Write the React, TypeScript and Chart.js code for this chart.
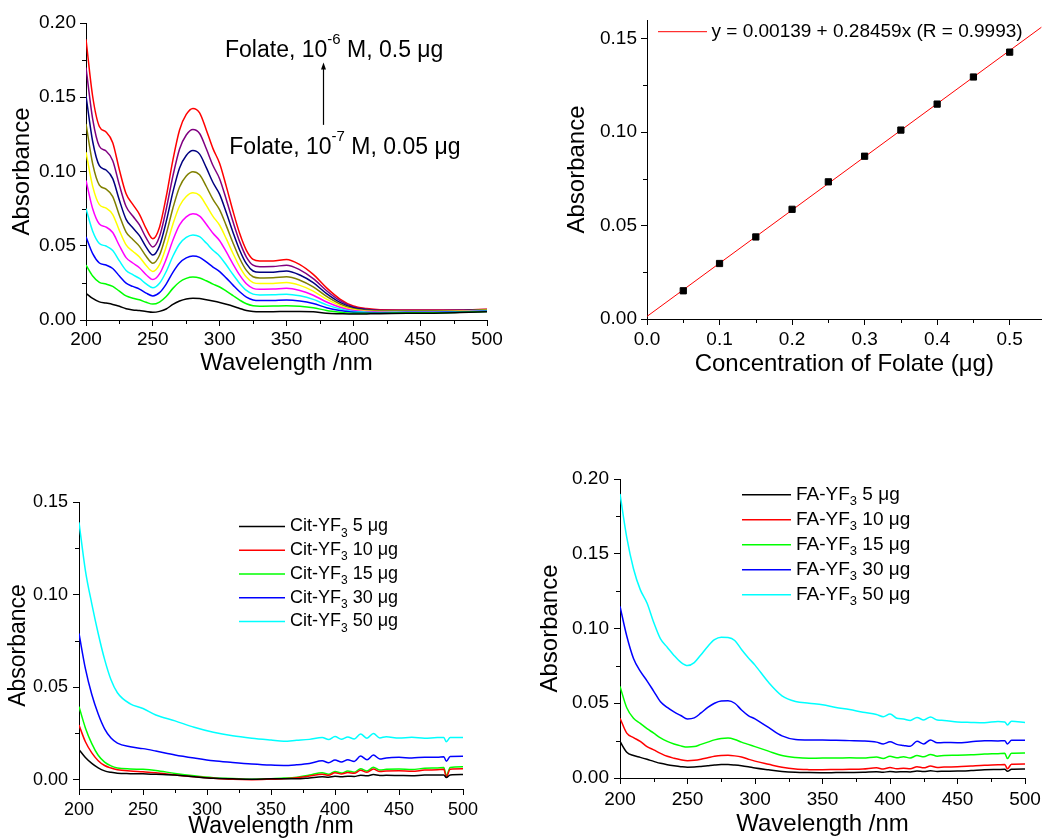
import React, { useEffect, useRef } from 'react';
import { Chart, registerables } from 'chart.js';

Chart.register(...registerables);

const FONT = '"Liberation Sans", Arial, Helvetica, sans-serif';
Chart.defaults.font.family = FONT;
Chart.defaults.color = '#000';

// ---------- Panel A: folate spectra ----------
const WL_A = [200, 205, 210, 215, 220, 225, 230, 235, 240, 245, 250, 255, 260, 265, 270, 275, 280, 285, 290, 295, 300, 305, 310, 315, 320, 325, 330, 340, 350, 360, 370, 380, 390, 400, 410, 420, 440, 460, 480, 500];
const FOL_005 = [0.018, 0.0145, 0.0122, 0.0114, 0.0105, 0.0092, 0.0076, 0.0068, 0.0064, 0.0057, 0.0052, 0.0058, 0.0074, 0.0105, 0.0128, 0.0142, 0.0147, 0.0144, 0.0137, 0.0128, 0.0118, 0.0106, 0.0093, 0.0078, 0.0064, 0.0057, 0.0055, 0.0056, 0.0057, 0.0058, 0.0055, 0.0045, 0.0042, 0.0040, 0.0041, 0.0042, 0.0045, 0.0046, 0.0050, 0.0055];
const FOL_010 = [0.037, 0.0296, 0.0253, 0.0242, 0.0226, 0.0194, 0.0162, 0.0147, 0.0136, 0.0119, 0.0107, 0.0121, 0.0158, 0.0213, 0.0256, 0.0280, 0.0289, 0.0283, 0.0264, 0.0242, 0.0222, 0.0194, 0.0164, 0.0134, 0.0109, 0.0096, 0.0093, 0.0094, 0.0096, 0.0093, 0.0083, 0.0064, 0.0053, 0.0046, 0.0045, 0.0045, 0.0048, 0.0048, 0.0052, 0.0057];
const FOL_015 = [0.056, 0.0447, 0.0384, 0.0370, 0.0347, 0.0296, 0.0248, 0.0226, 0.0208, 0.0181, 0.0162, 0.0184, 0.0242, 0.0321, 0.0384, 0.0418, 0.0431, 0.0422, 0.0391, 0.0356, 0.0326, 0.0282, 0.0235, 0.0190, 0.0154, 0.0135, 0.0131, 0.0132, 0.0135, 0.0128, 0.0111, 0.0083, 0.0064, 0.0052, 0.0049, 0.0048, 0.0050, 0.0051, 0.0054, 0.0059];
const FOL_020 = [0.075, 0.0598, 0.0515, 0.0498, 0.0468, 0.0398, 0.0334, 0.0305, 0.0280, 0.0243, 0.0217, 0.0247, 0.0326, 0.0429, 0.0512, 0.0556, 0.0573, 0.0561, 0.0518, 0.0470, 0.0430, 0.0370, 0.0306, 0.0246, 0.0199, 0.0174, 0.0169, 0.0170, 0.0174, 0.0163, 0.0139, 0.0102, 0.0075, 0.0058, 0.0053, 0.0051, 0.0053, 0.0053, 0.0056, 0.0061];
const FOL_025 = [0.094, 0.0749, 0.0646, 0.0626, 0.0589, 0.0500, 0.0420, 0.0384, 0.0352, 0.0305, 0.0272, 0.0310, 0.0410, 0.0537, 0.0640, 0.0694, 0.0715, 0.0700, 0.0645, 0.0584, 0.0534, 0.0458, 0.0377, 0.0302, 0.0244, 0.0213, 0.0207, 0.0208, 0.0213, 0.0198, 0.0167, 0.0121, 0.0086, 0.0064, 0.0057, 0.0054, 0.0055, 0.0056, 0.0058, 0.0063];
const FOL_030 = [0.113, 0.0900, 0.0777, 0.0754, 0.0710, 0.0602, 0.0506, 0.0463, 0.0424, 0.0367, 0.0327, 0.0373, 0.0494, 0.0645, 0.0768, 0.0832, 0.0857, 0.0839, 0.0772, 0.0698, 0.0638, 0.0546, 0.0448, 0.0358, 0.0289, 0.0252, 0.0245, 0.0246, 0.0252, 0.0233, 0.0195, 0.0140, 0.0097, 0.0070, 0.0061, 0.0057, 0.0058, 0.0058, 0.0060, 0.0065];
const FOL_035 = [0.132, 0.1051, 0.0908, 0.0882, 0.0831, 0.0704, 0.0592, 0.0542, 0.0496, 0.0429, 0.0382, 0.0436, 0.0578, 0.0753, 0.0896, 0.0970, 0.0999, 0.0978, 0.0899, 0.0812, 0.0742, 0.0634, 0.0519, 0.0414, 0.0334, 0.0291, 0.0283, 0.0284, 0.0291, 0.0268, 0.0223, 0.0159, 0.0108, 0.0076, 0.0065, 0.0060, 0.0060, 0.0061, 0.0062, 0.0067];
const FOL_040 = [0.151, 0.1202, 0.1039, 0.1010, 0.0952, 0.0806, 0.0678, 0.0621, 0.0568, 0.0491, 0.0437, 0.0499, 0.0662, 0.0861, 0.1024, 0.1108, 0.1141, 0.1117, 0.1026, 0.0926, 0.0846, 0.0722, 0.0590, 0.0470, 0.0379, 0.0330, 0.0321, 0.0322, 0.0330, 0.0303, 0.0251, 0.0178, 0.0119, 0.0082, 0.0069, 0.0063, 0.0063, 0.0063, 0.0064, 0.0069];
const FOL_045 = [0.170, 0.1353, 0.1170, 0.1138, 0.1073, 0.0908, 0.0764, 0.0700, 0.0640, 0.0553, 0.0492, 0.0562, 0.0746, 0.0969, 0.1152, 0.1246, 0.1283, 0.1256, 0.1153, 0.1040, 0.0950, 0.0810, 0.0661, 0.0526, 0.0424, 0.0369, 0.0359, 0.0360, 0.0369, 0.0338, 0.0279, 0.0197, 0.0130, 0.0088, 0.0073, 0.0066, 0.0065, 0.0066, 0.0066, 0.0071];
const FOL_050 = [0.189, 0.1505, 0.1303, 0.1266, 0.1194, 0.1010, 0.0850, 0.0779, 0.0712, 0.0615, 0.0547, 0.0625, 0.0830, 0.1077, 0.1280, 0.1384, 0.1425, 0.1395, 0.1280, 0.1154, 0.1054, 0.0898, 0.0732, 0.0582, 0.0469, 0.0408, 0.0397, 0.0398, 0.0408, 0.0373, 0.0307, 0.0216, 0.0141, 0.0094, 0.0077, 0.0069, 0.0068, 0.0068, 0.0068, 0.0073];
const FOL_SERIES = [FOL_005, FOL_010, FOL_015, FOL_020, FOL_025, FOL_030, FOL_035, FOL_040, FOL_045, FOL_050];
const FOL_MASSES = ['0.05', '0.10', '0.15', '0.20', '0.25', '0.30', '0.35', '0.40', '0.45', '0.50'];
const FOL_COLORS = ['#000000', '#00ff00', '#0000ff', '#00ffff', '#ff00ff', '#ffff00', '#808000', '#000080', '#800080', '#ff0000'];

// ---------- Panel B: calibration ----------
const CONC = [0.05, 0.1, 0.15, 0.2, 0.25, 0.3, 0.35, 0.4, 0.45, 0.5];
const CAL_ABS = [0.0151, 0.0297, 0.0439, 0.0587, 0.0734, 0.0871, 0.1011, 0.1150, 0.1295, 0.1428];
const FIT_X = [0, 0.544];
const FIT_Y = [0.00139, 0.1562];
const FIT_LABEL = 'y = 0.00139 + 0.28459x (R = 0.9993)';

// ---------- Panel C: Cit-YF3 ----------
const WL_C = [200, 205, 210, 215, 220, 225, 230, 240, 250, 260, 275, 290, 305, 320, 335, 350, 360, 370, 380, 390, 395, 400, 405, 410, 415, 420, 425, 430, 435, 440, 450, 460, 470, 480, 485, 487, 490, 500];
const CIT_5 = [0.0163, 0.0120, 0.0088, 0.0064, 0.0048, 0.0040, 0.0035, 0.0033, 0.0032, 0.0029, 0.0025, 0.0016, 0.0008, 0.0005, 0.0003, 0.0005, 0.0006, 0.0005, 0.0010, 0.0016, 0.0014, 0.0019, 0.0016, 0.0019, 0.0018, 0.0024, 0.0021, 0.0028, 0.0023, 0.0024, 0.0023, 0.0022, 0.0025, 0.0025, 0.0026, 0.0012, 0.0026, 0.0028];
const CIT_10 = [0.0295, 0.0205, 0.0145, 0.0103, 0.0077, 0.0063, 0.0054, 0.0047, 0.0043, 0.0038, 0.0026, 0.0016, 0.0008, 0.0002, 0.0000, 0.0003, 0.0006, 0.0011, 0.0020, 0.0030, 0.0024, 0.0038, 0.0031, 0.0039, 0.0035, 0.0051, 0.0040, 0.0058, 0.0044, 0.0047, 0.0048, 0.0046, 0.0052, 0.0054, 0.0056, 0.0016, 0.0057, 0.0059];
const CIT_15 = [0.0395, 0.028, 0.0195, 0.0132, 0.0095, 0.0075, 0.0064, 0.0058, 0.0056, 0.0050, 0.0034, 0.0021, 0.0011, 0.0007, 0.0003, 0.0006, 0.0009, 0.0014, 0.0025, 0.0038, 0.0030, 0.0045, 0.0036, 0.0047, 0.0041, 0.0059, 0.0047, 0.0068, 0.0052, 0.0056, 0.0058, 0.0055, 0.0062, 0.0064, 0.0066, 0.0022, 0.0066, 0.0070];
const CIT_30 = [0.079, 0.060, 0.046, 0.0355, 0.0275, 0.0225, 0.0198, 0.0178, 0.0168, 0.0155, 0.0134, 0.0117, 0.0102, 0.0093, 0.0085, 0.0079, 0.0077, 0.0081, 0.0088, 0.0102, 0.0092, 0.0106, 0.0096, 0.0108, 0.0099, 0.0128, 0.0108, 0.0133, 0.0112, 0.0118, 0.0121, 0.0117, 0.0122, 0.0121, 0.0124, 0.0100, 0.0126, 0.0127];
const CIT_50 = [0.139, 0.113, 0.095, 0.079, 0.065, 0.054, 0.047, 0.041, 0.0385, 0.035, 0.0318, 0.0283, 0.0256, 0.0237, 0.0224, 0.0214, 0.0208, 0.0213, 0.0218, 0.0228, 0.0217, 0.0233, 0.0219, 0.0231, 0.0220, 0.0247, 0.0224, 0.0250, 0.0226, 0.0232, 0.0225, 0.0229, 0.0224, 0.0228, 0.0228, 0.0205, 0.0228, 0.0228];
const CIT_SERIES = [CIT_5, CIT_10, CIT_15, CIT_30, CIT_50];

// ---------- Panel D: FA-YF3 ----------
const WL_D = [200, 205, 210, 215, 220, 225, 230, 235, 240, 245, 250, 255, 260, 265, 270, 275, 280, 285, 290, 295, 300, 310, 320, 330, 340, 350, 360, 370, 380, 390, 395, 400, 405, 410, 415, 420, 425, 430, 435, 440, 450, 460, 470, 480, 485, 487, 490, 500];
const FA_5 = [0.0244, 0.0172, 0.0150, 0.0138, 0.0125, 0.0111, 0.0098, 0.0089, 0.0082, 0.0076, 0.0072, 0.0073, 0.0077, 0.0082, 0.0087, 0.0090, 0.0090, 0.0087, 0.0082, 0.0075, 0.0067, 0.0055, 0.0044, 0.0038, 0.0036, 0.0035, 0.0036, 0.0037, 0.0038, 0.0042, 0.0038, 0.0044, 0.0040, 0.0042, 0.0040, 0.0046, 0.0043, 0.0048, 0.0044, 0.0045, 0.0046, 0.0050, 0.0055, 0.0057, 0.0058, 0.0045, 0.0058, 0.0060];
const FA_10 = [0.040, 0.030, 0.027, 0.0245, 0.021, 0.0188, 0.0165, 0.0145, 0.0132, 0.0122, 0.0116, 0.0118, 0.0125, 0.0135, 0.0145, 0.0151, 0.0152, 0.0148, 0.0140, 0.0126, 0.0113, 0.0092, 0.0072, 0.0060, 0.0056, 0.0055, 0.0057, 0.0058, 0.0060, 0.0068, 0.0060, 0.0070, 0.0062, 0.0066, 0.0062, 0.0075, 0.0068, 0.0080, 0.0070, 0.0073, 0.0075, 0.0080, 0.0085, 0.0088, 0.0090, 0.0062, 0.0092, 0.0094];
const FA_15 = [0.0613, 0.047, 0.040, 0.0365, 0.033, 0.030, 0.0268, 0.0245, 0.0228, 0.0215, 0.0207, 0.0210, 0.0225, 0.0240, 0.0255, 0.0265, 0.0267, 0.0258, 0.0240, 0.0225, 0.0210, 0.0180, 0.0150, 0.0137, 0.0132, 0.0133, 0.0133, 0.0135, 0.0133, 0.0140, 0.0130, 0.0145, 0.0135, 0.0142, 0.0134, 0.0150, 0.0142, 0.0158, 0.0146, 0.0150, 0.0152, 0.0155, 0.0160, 0.0163, 0.0165, 0.0130, 0.0165, 0.0167];
const FA_30 = [0.1148, 0.095, 0.080, 0.0715, 0.065, 0.058, 0.051, 0.0472, 0.0442, 0.0418, 0.0395, 0.0402, 0.0435, 0.0472, 0.0500, 0.0515, 0.0516, 0.0500, 0.0455, 0.0418, 0.0395, 0.0338, 0.0282, 0.0258, 0.0255, 0.0255, 0.0252, 0.0250, 0.0248, 0.0240, 0.0228, 0.0242, 0.0225, 0.0218, 0.0212, 0.0245, 0.0228, 0.0255, 0.0235, 0.0238, 0.0236, 0.0242, 0.0250, 0.0248, 0.0250, 0.0228, 0.0252, 0.0252];
const FA_50 = [0.190, 0.161, 0.140, 0.126, 0.117, 0.104, 0.093, 0.0875, 0.082, 0.0775, 0.0752, 0.0772, 0.0825, 0.088, 0.0925, 0.0942, 0.0940, 0.0920, 0.0860, 0.0805, 0.0755, 0.0640, 0.0550, 0.0512, 0.0500, 0.0490, 0.0472, 0.0458, 0.0440, 0.0425, 0.0410, 0.0428, 0.0400, 0.0395, 0.0385, 0.0405, 0.0388, 0.0408, 0.0388, 0.0385, 0.0375, 0.0372, 0.0370, 0.0378, 0.0375, 0.0355, 0.0380, 0.0372];
const FA_SERIES = [FA_5, FA_10, FA_15, FA_30, FA_50];

const DOSES = ['5', '10', '15', '30', '50'];
const DOSE_COLORS = ['#000000', '#ff0000', '#00ff00', '#0000ff', '#00ffff'];

// ---------- tick labels ----------
const WL_TICKS = [200, 250, 300, 350, 400, 450, 500];
const ABS_TICKS_A = [0, 0.05, 0.1, 0.15, 0.2];
const CONC_TICKS = [0, 0.1, 0.2, 0.3, 0.4, 0.5];
const ABS_TICKS_B = [0, 0.05, 0.1, 0.15];
const ABS_TICKS_C = [0, 0.05, 0.1, 0.15];
const ABS_TICKS_D = [0, 0.05, 0.1, 0.15, 0.2];

// ---------- helpers ----------
type Part = { t: string; size: number; dy?: number };

function drawRich(ctx: CanvasRenderingContext2D, x: number, y: number, parts: Part[]) {
  let cx = x;
  for (const p of parts) {
    ctx.font = `${p.size}px ${FONT}`;
    ctx.fillText(p.t, cx, y + (p.dy || 0));
    cx += ctx.measureText(p.t).width;
  }
}

const minorTicks = {
  id: 'minorTicks',
  afterDraw(chart: any) {
    const ctx = chart.ctx as CanvasRenderingContext2D;
    ctx.save();
    ctx.strokeStyle = '#000';
    ctx.lineWidth = 1;
    for (const id of ['x', 'y']) {
      const s = chart.scales[id];
      const vals = s.ticks.map((t: any) => t.value);
      for (let i = 0; i < vals.length - 1; i++) {
        const p = Math.round(s.getPixelForValue((vals[i] + vals[i + 1]) / 2)) + 0.5;
        ctx.beginPath();
        if (id === 'x') {
          ctx.moveTo(p, s.top);
          ctx.lineTo(p, s.top + 4);
        } else {
          ctx.moveTo(s.right, p);
          ctx.lineTo(s.right - 4, p);
        }
        ctx.stroke();
      }
    }
    ctx.restore();
  },
};

type AxisOpts = {
  min: number; max: number; ticks: number[]; fmt: (v: number) => string; title: string;
  titleSize: number; titlePad: number; tickSize: number; tickPad: number; fixed: number; horizontal: boolean;
};

function axis(o: AxisOpts) {
  return {
    type: 'linear',
    position: o.horizontal ? 'bottom' : 'left',
    min: o.min,
    max: o.max,
    afterBuildTicks: (s: any) => { s.ticks = o.ticks.map((v) => ({ value: v })); },
    afterFit: (s: any) => { if (o.horizontal) s.height = o.fixed; else s.width = o.fixed; },
    ticks: {
      autoSkip: false, maxRotation: 0, minRotation: 0, includeBounds: false,
      padding: o.tickPad, color: '#000', font: { size: o.tickSize, family: FONT },
      callback: (v: any) => o.fmt(Number(v)),
    },
    grid: { display: true, drawOnChartArea: false, drawTicks: true, tickLength: 6, tickColor: '#000', tickWidth: 1 },
    border: { display: true, color: '#000', width: 1 },
    title: {
      display: true, text: o.title, color: '#000', font: { size: o.titleSize, family: FONT },
      padding: o.horizontal ? { top: 0, bottom: o.titlePad } : { top: o.titlePad, bottom: 0 },
    },
  };
}

function lineSet(label: string, xs: number[], ys: number[], color: string, width = 1.5) {
  return {
    label,
    data: xs.map((x, i) => ({ x, y: ys[i] })),
    showLine: true,
    borderColor: color,
    backgroundColor: color,
    borderWidth: width,
    pointRadius: 0,
    cubicInterpolationMode: 'monotone',
    fill: false,
  };
}

function baseOptions(padTop: number, padRight: number, xAxis: any, yAxis: any) {
  return {
    responsive: false,
    animation: false,
    devicePixelRatio: 1,
    layout: { padding: { left: 0, top: padTop, right: padRight, bottom: 0 } },
    plugins: { legend: { display: false }, tooltip: { enabled: false } },
    scales: { x: xAxis, y: yAxis },
  };
}

function drawDoseLegend(chart: any, prefix: string, dx0: number, dx1: number, dTop: number, step: number, size: number, sub: number) {
  const { ctx, chartArea } = chart;
  ctx.save();
  ctx.textBaseline = 'middle';
  ctx.fillStyle = '#000';
  DOSES.forEach((d, i) => {
    const y = chartArea.top + dTop + i * step;
    ctx.strokeStyle = DOSE_COLORS[i];
    ctx.lineWidth = 1.5;
    ctx.beginPath();
    ctx.moveTo(chartArea.left + dx0, y);
    ctx.lineTo(chartArea.left + dx1, y);
    ctx.stroke();
    drawRich(ctx, chartArea.left + dx1 + 5, y, [
      { t: prefix, size },
      { t: '3', size: sub, dy: 7 },
      { t: ` ${d} \u03bcg`, size },
    ]);
  });
  ctx.restore();
}

// ---------- configs ----------
function makeA() {
  return {
    type: 'scatter',
    data: {
      datasets: FOL_SERIES.map((s, i) => lineSet(`Folate ${FOL_MASSES[i]} \u03bcg`, WL_A, s, FOL_COLORS[i])),
    },
    options: baseOptions(23, 36,
      axis({ min: 200, max: 500, ticks: WL_TICKS, fmt: (v) => String(v), title: 'Wavelength /nm', titleSize: 24, titlePad: 42, tickSize: 19, tickPad: 2, fixed: 100, horizontal: true }),
      axis({ min: 0, max: 0.2, ticks: ABS_TICKS_A, fmt: (v) => v.toFixed(2), title: 'Absorbance', titleSize: 24, titlePad: 8, tickSize: 19, tickPad: 4, fixed: 86, horizontal: false })),
    plugins: [minorTicks, {
      id: 'annotA',
      afterDraw(chart: any) {
        const { ctx, scales: { x, y } } = chart;
        ctx.save();
        ctx.fillStyle = '#000';
        ctx.textBaseline = 'alphabetic';
        drawRich(ctx, x.getPixelForValue(304), y.getPixelForValue(0.177), [
          { t: 'Folate, 10', size: 23 }, { t: '-6', size: 15, dy: -13 }, { t: ' M, 0.5 \u03bcg', size: 23 },
        ]);
        drawRich(ctx, x.getPixelForValue(307.2), y.getPixelForValue(0.112), [
          { t: 'Folate, 10', size: 23 }, { t: '-7', size: 15, dy: -13 }, { t: ' M, 0.05 \u03bcg', size: 23 },
        ]);
        const ax = Math.round(x.getPixelForValue(377)) + 0.5;
        const y0 = y.getPixelForValue(0.1314);
        const y1 = y.getPixelForValue(0.1734);
        ctx.strokeStyle = '#000';
        ctx.lineWidth = 1.2;
        ctx.beginPath();
        ctx.moveTo(ax, y0);
        ctx.lineTo(ax, y1 + 6);
        ctx.stroke();
        ctx.beginPath();
        ctx.moveTo(ax, y1);
        ctx.lineTo(ax - 2.5, y1 + 7);
        ctx.lineTo(ax + 2.5, y1 + 7);
        ctx.closePath();
        ctx.fill();
        ctx.restore();
      },
    }],
  };
}

function makeB() {
  return {
    type: 'scatter',
    data: {
      datasets: [
        {
          label: 'Absorbance at 280 nm',
          data: CONC.map((x, i) => ({ x, y: CAL_ABS[i] })),
          showLine: false,
          pointStyle: 'rect',
          pointRadius: 4.4,
          borderWidth: 1,
          borderColor: '#000',
          backgroundColor: '#000',
        },
        { ...lineSet(FIT_LABEL, FIT_X, FIT_Y, '#ff0000', 1), cubicInterpolationMode: 'default', tension: 0 },
      ],
    },
    options: baseOptions(20, 1,
      axis({ min: 0, max: 0.544, ticks: CONC_TICKS, fmt: (v) => v.toFixed(1), title: 'Concentration of Folate (\u03bcg)', titleSize: 24, titlePad: 41, tickSize: 19, tickPad: 3, fixed: 101, horizontal: true }),
      axis({ min: 0, max: 0.16, ticks: ABS_TICKS_B, fmt: (v) => v.toFixed(2), title: 'Absorbance', titleSize: 24, titlePad: 40, tickSize: 19, tickPad: 4, fixed: 124, horizontal: false })),
    plugins: [minorTicks, {
      id: 'legendB',
      afterDraw(chart: any) {
        const { ctx, chartArea } = chart;
        const y = chartArea.top + 11.7;
        ctx.save();
        ctx.strokeStyle = '#ff0000';
        ctx.lineWidth = 1;
        ctx.beginPath();
        ctx.moveTo(chartArea.left + 11, y);
        ctx.lineTo(chartArea.left + 60, y);
        ctx.stroke();
        ctx.fillStyle = '#000';
        ctx.textBaseline = 'middle';
        ctx.font = `19px ${FONT}`;
        ctx.fillText(FIT_LABEL, chartArea.left + 64.5, y);
        ctx.restore();
      },
    }],
  };
}

function makeC() {
  return {
    type: 'scatter',
    data: {
      datasets: CIT_SERIES.map((s, i) => lineSet(`Cit-YF\u2083 ${DOSES[i]} \u03bcg`, WL_C, s, DOSE_COLORS[i])),
    },
    options: baseOptions(82, 60,
      axis({ min: 200, max: 500, ticks: WL_TICKS, fmt: (v) => String(v), title: 'Wavelength /nm', titleSize: 23, titlePad: -1, tickSize: 18, tickPad: 4, fixed: 50, horizontal: true }),
      axis({ min: -0.005, max: 0.15, ticks: ABS_TICKS_C, fmt: (v) => v.toFixed(2), title: 'Absorbance', titleSize: 23, titlePad: 5, tickSize: 18, tickPad: 5, fixed: 79, horizontal: false })),
    plugins: [minorTicks, {
      id: 'legendC',
      afterDraw(chart: any) { drawDoseLegend(chart, 'Cit-YF', 160, 206, 24.4, 23.75, 18, 12); },
    }],
  };
}

function makeD() {
  return {
    type: 'scatter',
    data: {
      datasets: FA_SERIES.map((s, i) => lineSet(`FA-YF\u2083 ${DOSES[i]} \u03bcg`, WL_D, s, DOSE_COLORS[i])),
    },
    options: baseOptions(59, 22,
      axis({ min: 200, max: 500, ticks: WL_TICKS, fmt: (v) => String(v), title: 'Wavelength /nm', titleSize: 24, titlePad: 0, tickSize: 19, tickPad: 4, fixed: 61, horizontal: true }),
      axis({ min: 0, max: 0.2, ticks: ABS_TICKS_D, fmt: (v) => v.toFixed(2), title: 'Absorbance', titleSize: 24, titlePad: 13, tickSize: 19, tickPad: 5, fixed: 97, horizontal: false })),
    plugins: [minorTicks, {
      id: 'legendD',
      afterDraw(chart: any) { drawDoseLegend(chart, 'FA-YF', 122, 171, 15.7, 25, 19, 13); },
    }],
  };
}

function ChartPanel(props: { make: () => any; left: number; top: number; width: number; height: number }) {
  const ref = useRef<HTMLCanvasElement>(null);
  useEffect(() => {
    const chart = new Chart(ref.current as HTMLCanvasElement, props.make());
    return () => chart.destroy();
  }, []);
  return (
    <canvas
      ref={ref}
      width={props.width}
      height={props.height}
      style={{ position: 'absolute', left: props.left, top: props.top, width: props.width, height: props.height }}
    />
  );
}

export default function App() {
  return (
    <div style={{ position: 'absolute', left: 0, top: 0, width: 1047, height: 839, overflow: 'hidden', background: '#fff' }}>
      <ChartPanel make={makeA} left={0} top={0} width={523} height={420} />
      <ChartPanel make={makeB} left={523} top={0} width={524} height={420} />
      <ChartPanel make={makeC} left={0} top={420} width={523} height={419} />
      <ChartPanel make={makeD} left={523} top={420} width={524} height={419} />
    </div>
  );
}
